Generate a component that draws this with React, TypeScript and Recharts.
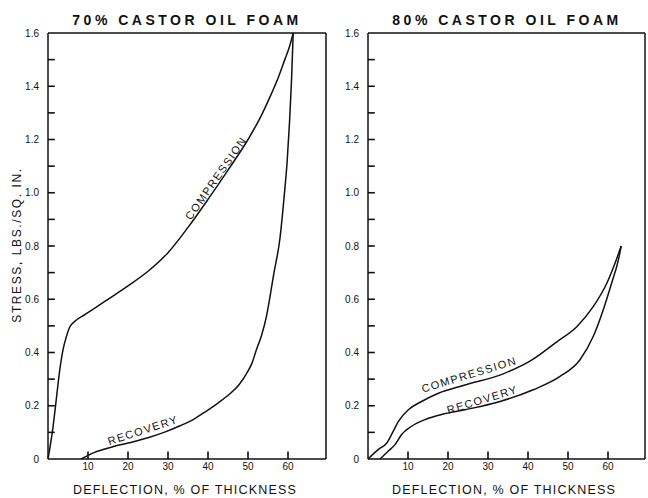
import React from 'react';
import { LineChart, Line, XAxis, YAxis, ReferenceDot, ReferenceLine } from 'recharts';

// ---- data ----
const X_TICKS = [10, 20, 30, 40, 50, 60];
const Y_TICKS = [0, 0.1, 0.2, 0.3, 0.4, 0.5, 0.6, 0.7, 0.8, 0.9, 1.0, 1.1, 1.2, 1.3, 1.4, 1.5, 1.6];

const comp70X = [0, 1.25, 2.1, 2.9, 3.75, 4.6, 5.4, 6.7, 9.2, 14.2, 20, 25, 30, 35, 40, 45, 50, 53, 55.5, 57.5, 59.2, 60.4, 61.3];
const comp70Y = [0, 0.12, 0.228, 0.33, 0.41, 0.46, 0.495, 0.517, 0.542, 0.592, 0.65, 0.705, 0.775, 0.87, 0.975, 1.085, 1.2, 1.28, 1.36, 1.43, 1.5, 1.55, 1.6];

const rec70X = [8.3, 11.5, 16, 20, 25, 29, 33, 36.5, 39.6, 42.5, 45.4, 47.7, 49.6, 51, 52.1, 53.4, 54.6, 56.5, 58, 59, 59.8, 60.4, 60.9, 61.3];
const rec70Y = [0, 0.024, 0.045, 0.06, 0.08, 0.1, 0.125, 0.15, 0.18, 0.21, 0.244, 0.278, 0.32, 0.36, 0.41, 0.465, 0.535, 0.7, 0.83, 0.98, 1.12, 1.27, 1.43, 1.6];

const comp80X = [0, 2.6, 4.7, 6.3, 7.6, 10.1, 13.4, 17.6, 24.25, 33.5, 41.3, 47.2, 52.2, 56.3, 59.7, 61.75, 63.3];
const comp80Y = [0, 0.036, 0.06, 0.104, 0.141, 0.185, 0.216, 0.247, 0.278, 0.318, 0.375, 0.44, 0.497, 0.572, 0.66, 0.735, 0.8];

const rec80X = [3, 5.1, 6.75, 8.4, 10.9, 14.25, 18.4, 24.25, 33, 41.3, 48, 53, 56.3, 58.8, 60.9, 62.6, 63.3];
const rec80Y = [0, 0.03, 0.054, 0.092, 0.123, 0.148, 0.167, 0.185, 0.216, 0.26, 0.31, 0.373, 0.46, 0.56, 0.66, 0.748, 0.8];

const TITLES = ['70% CASTOR OIL FOAM', '80% CASTOR OIL FOAM'];
const X_TITLE = 'DEFLECTION, % OF THICKNESS';
const Y_TITLE = 'STRESS, LBS./SQ. IN.';
const CURVE_NAMES = ['COMPRESSION', 'RECOVERY'];

// curve-label anchors (data coordinates) and angles
const labelAnchors70 = [
  { x: 42, y: 1.055, angle: -55 },
  { x: 23.75, y: 0.108, angle: -18 },
];
const labelAnchors80 = [
  { x: 25.3, y: 0.317, angle: -17 },
  { x: 28.6, y: 0.223, angle: -17 },
];

// inward tick-mark lengths in data units
const Y_TICK_LEN = 1.7;
const X_TICK_LEN = 0.028;

const toPoints = (xs: number[], ys: number[]) => xs.map((x, i) => ({ x, y: ys[i] }));

const INK = '#111111';
const FONT = '"Liberation Sans", Arial, sans-serif';

const yFmt = (v: number) => {
  const k = Math.round(v * 10);
  if (k % 2 !== 0) return '';
  if (k === 0) return '0';
  return v.toFixed(1);
};

const YTick = (props: any) => {
  const { x, y, payload } = props;
  const label = yFmt(payload.value);
  if (label === '') return <g />;
  return (
    <text x={x} y={y} dy="0.35em" textAnchor="end" fontSize={10} fontFamily={FONT} fill={INK}>
      {label}
    </text>
  );
};

const XTick = (props: any) => {
  const { x, y, payload } = props;
  return (
    <text x={x} y={y} dy="0.71em" textAnchor="middle" fontSize={10} fontFamily={FONT} fill={INK}>
      {String(payload.value)}
    </text>
  );
};

type PanelProps = {
  width: number;
  yAxisWidth: number;
  marginLeft: number;
  marginRight: number;
  xMax: number;
  comp: { x: number; y: number }[];
  rec: { x: number; y: number }[];
  anchors: { x: number; y: number; angle: number }[];
};

function Panel({ width, yAxisWidth, marginLeft, marginRight, xMax, comp, rec, anchors }: PanelProps) {
  return (
    <LineChart
      width={width}
      height={498}
      margin={{ top: 33, right: marginRight, bottom: 9, left: marginLeft }}
    >
      <XAxis
        dataKey="x"
        type="number"
        domain={[0, xMax]}
        ticks={X_TICKS}
        interval={0}
        height={30}
        tickSize={0}
        tickMargin={4}
        axisLine={{ stroke: INK, strokeWidth: 1.5 }}
        tickLine={false}
        tick={<XTick />}
      />
      <YAxis
        type="number"
        domain={[0, 1.6]}
        ticks={Y_TICKS}
        interval={0}
        width={yAxisWidth}
        tickSize={0}
        tickMargin={9}
        axisLine={{ stroke: INK, strokeWidth: 1.5 }}
        tickLine={false}
        tick={<YTick />}
      />
      <ReferenceLine y={1.6} stroke={INK} strokeWidth={1.5} ifOverflow="visible" />
      <ReferenceLine x={xMax} stroke={INK} strokeWidth={1.5} ifOverflow="visible" />
      {Y_TICKS.slice(1, -1).map((v) => (
        <ReferenceLine
          key={'y' + v}
          segment={[{ x: 0, y: v }, { x: Y_TICK_LEN, y: v }]}
          stroke={INK}
          strokeWidth={1.6}
          ifOverflow="visible"
        />
      ))}
      {X_TICKS.map((v) => (
        <ReferenceLine
          key={'x' + v}
          segment={[{ x: v, y: 0 }, { x: v, y: X_TICK_LEN }]}
          stroke={INK}
          strokeWidth={1.6}
          ifOverflow="visible"
        />
      ))}
      <Line
        data={comp}
        dataKey="y"
        type="monotone"
        stroke={INK}
        strokeWidth={1.5}
        dot={false}
        activeDot={false}
        isAnimationActive={false}
      />
      <Line
        data={rec}
        dataKey="y"
        type="monotone"
        stroke={INK}
        strokeWidth={1.5}
        dot={false}
        activeDot={false}
        isAnimationActive={false}
      />
      {anchors.map((a, i) => (
        <ReferenceDot
          key={'l' + i}
          x={a.x}
          y={a.y}
          r={1}
          shape={(p: any) => (
            <text
              x={p.cx}
              y={p.cy}
              dy="0.35em"
              textAnchor="middle"
              transform={`rotate(${a.angle} ${p.cx} ${p.cy})`}
              fontSize={11}
              fontFamily={FONT}
              letterSpacing={1.5}
              fill={INK}
            >
              {CURVE_NAMES[i]}
            </text>
          )}
        />
      ))}
    </LineChart>
  );
}

export default function App() {
  return (
    <div style={{ position: 'absolute', left: 0, top: 0, width: 648, height: 498, background: '#fff' }}>
      <div style={{ position: 'absolute', left: 0, top: 0 }}>
        <Panel
          width={330}
          yAxisWidth={40}
          marginLeft={8}
          marginRight={4}
          xMax={69.5}
          comp={toPoints(comp70X, comp70Y)}
          rec={toPoints(rec70X, rec70Y)}
          anchors={labelAnchors70}
        />
      </div>
      <div style={{ position: 'absolute', left: 328, top: 0 }}>
        <Panel
          width={320}
          yAxisWidth={32}
          marginLeft={8}
          marginRight={3}
          xMax={69.25}
          comp={toPoints(comp80X, comp80Y)}
          rec={toPoints(rec80X, rec80Y)}
          anchors={labelAnchors80}
        />
      </div>
      <svg width={648} height={498} style={{ position: 'absolute', left: 0, top: 0, pointerEvents: 'none' }}>
        <text x={187} y={25} textAnchor="middle" fontSize={14} fontWeight="bold" fontFamily={FONT} letterSpacing={3.5} fill={INK}>
          {TITLES[0]}
        </text>
        <text x={507} y={25} textAnchor="middle" fontSize={14} fontWeight="bold" fontFamily={FONT} letterSpacing={3.5} fill={INK}>
          {TITLES[1]}
        </text>
        <text x={185} y={494} textAnchor="middle" fontSize={12.5} fontFamily={FONT} letterSpacing={1.2} fill={INK}>
          {X_TITLE}
        </text>
        <text x={504} y={494} textAnchor="middle" fontSize={12.5} fontFamily={FONT} letterSpacing={1.2} fill={INK}>
          {X_TITLE}
        </text>
        <text
          x={17}
          y={245}
          textAnchor="middle"
          dy="0.35em"
          transform="rotate(-90 17 245)"
          fontSize={12}
          fontFamily={FONT}
          letterSpacing={1.6}
          fill={INK}
        >
          {Y_TITLE}
        </text>
      </svg>
    </div>
  );
}
